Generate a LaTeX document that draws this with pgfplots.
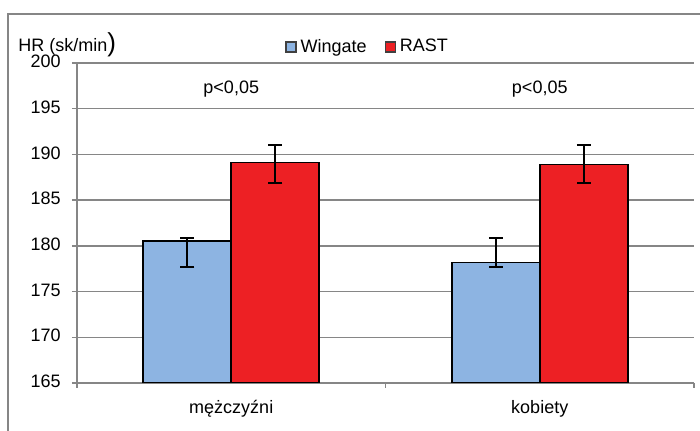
\documentclass[border=0pt]{standalone}
\usepackage{fontspec}
\setmainfont{Liberation Sans}
\usepackage{pgfplots}
\pgfplotsset{compat=1.18}
\definecolor{wblue}{RGB}{141,180,226}
\definecolor{rred}{RGB}{237,32,36}
\definecolor{gline}{RGB}{134,134,134}
\begin{document}
\fontsize{9pt}{11pt}\selectfont
\begin{tikzpicture}
\path[use as bounding box] (-38.5pt,-24pt) rectangle (311.5pt,191.5pt);
\draw[gline, line width=0.75pt] (-34.5pt,-40pt) -- (-34.5pt,184.5pt) -- (330pt,184.5pt);
\begin{axis}[
  at={(0pt,0pt)}, anchor=south west,
  scale only axis, width=308.5pt, height=160pt,
  ymin=165, ymax=200, ytick={165,170,...,200},
  xmin=-0.5, xmax=1.5,
  xtick={0,1}, xticklabels={mężczyźni,kobiety},
  minor xtick={-0.5,0.5,1.5},
  major x tick style={draw=none},
  tick align=outside,
  minor tick length=2.5pt, major tick length=2.5pt,
  every tick/.style={gline, line width=0.75pt},
  axis x line*=bottom, axis y line*=left,
  axis line style={gline, line width=0.75pt, -},
  ymajorgrids, grid style={gline, line width=0.75pt},
  ybar=0pt, bar width=44pt,
  /pgf/number format/assume math mode=true,
  tick label style={font=\fontsize{9pt}{11pt}\selectfont},
  xticklabel style={yshift=-3pt},
  yticklabel style={xshift=-2.5pt, yshift=0.8pt},
  legend columns=2,
  legend style={at={(0.337,1.05)}, anchor=west, draw=none, fill=none,
    font=\fontsize{9pt}{11pt}\selectfont,
    /tikz/every even column/.append style={column sep=7pt},
    inner sep=0pt},
  legend image code/.code={\draw[#1, draw=black!75, line width=0.6pt] (0pt,-2.5pt) rectangle (5pt,2.5pt);},
]
\addplot[fill=wblue, draw=black, line width=0.8pt,
  error bars/.cd, y dir=both, y explicit,
  error bar style={black, line width=1pt},
  error mark options={rotate=90, mark size=3.5pt, black, line width=1pt}]
  coordinates {(0,180.5) += (0,0.4) -= (0,2.8)
               (1,178.2) += (0,2.7) -= (0,0.5)};
\addlegendentry{Wingate}
\addplot[fill=rred, draw=black, line width=0.8pt,
  error bars/.cd, y dir=both, y explicit,
  error bar style={black, line width=1pt},
  error mark options={rotate=90, mark size=3.5pt, black, line width=1pt}]
  coordinates {(0,189.1) += (0,1.9) -= (0,2.2)
               (1,188.9) += (0,2.1) -= (0,2.0)};
\addlegendentry{RAST}
\node at (axis cs:0,197.2) {p<0,05};
\node at (axis cs:1,197.2) {p<0,05};
\end{axis}
\node[anchor=base west, inner sep=0pt] at (-29.5pt,165.5pt) {HR (sk/min{\fontsize{13pt}{13pt}\selectfont)}};
\end{tikzpicture}
\end{document}
